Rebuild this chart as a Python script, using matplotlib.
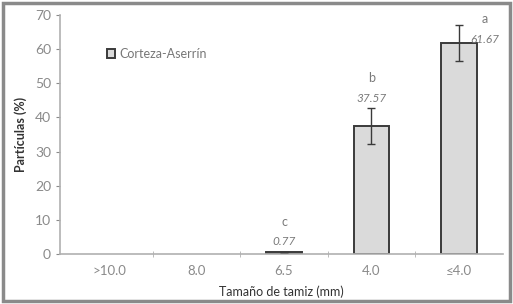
import matplotlib.pyplot as plt
import numpy as np

# data
categories = ['>10.0', '8.0', '6.5', '4.0', '≤4.0']
values = [0, 0, 0.77, 37.57, 61.67]
errors = [0, 0, 0, 5.2, 5.3]
letters = ['', '', 'c', 'b', 'a']
value_labels = ['', '', '0.77', '37.57', '61.67']

plt.rcParams['font.family'] = ['Lato', 'DejaVu Sans']

fig = plt.figure(figsize=(5.13, 3.04), dpi=100)
ax = fig.add_axes([0.117, 0.164, 0.863, 0.787])

x = np.arange(len(categories))
shown = [v > 0 for v in values]
bars = ax.bar(x[shown], np.array(values)[shown], width=0.41, color='#dadada',
              edgecolor='#3a3a3a', linewidth=1.4, label='Corteza-Aserrín', zorder=2)
ax.errorbar(x[shown], np.array(values)[shown], yerr=np.array(errors)[shown],
            fmt='none', ecolor='#3a3a3a', elinewidth=1, capsize=3, zorder=3)

# letters and values above the bars
for i in range(len(categories)):
    if not shown[i]:
        continue
    top = values[i] + errors[i]
    dx = 0.29 if top > 60 else 0
    ax.annotate(value_labels[i], (x[i] + dx, top), xytext=(0, 3 if dx == 0 else -14),
                textcoords='offset points', ha='center', va='bottom',
                fontsize=8.5, color='#7a7a7a', style='italic')
    ax.annotate(letters[i], (x[i] + dx, top), xytext=(0, 17 if dx == 0 else 0),
                textcoords='offset points', ha='center', va='bottom',
                fontsize=9, color='#7a7a7a')

ax.set_xlim(-0.56, 4.5)
ax.set_ylim(0, 70)
ax.set_yticks(range(0, 71, 10))
ax.set_xticks(x)
ax.set_xticklabels(categories)
ax.set_xticks(np.arange(0.5, 4.5, 1), minor=True)
ax.tick_params(axis='x', which='major', length=0, labelsize=9.5, colors='#8a8a8a', pad=8)
ax.tick_params(axis='x', which='minor', length=4, direction='inout', color='#b0b0b0')
ax.tick_params(axis='y', length=3, labelsize=10, colors='#8a8a8a', direction='out')
for s in ['top', 'right']:
    ax.spines[s].set_visible(False)
for s in ['left', 'bottom']:
    ax.spines[s].set_color('#b0b0b0')
    ax.spines[s].set_linewidth(1.2)

ax.set_xlabel('Tamaño de tamiz (mm)', fontsize=9, color='#333333', labelpad=6)
ax.set_ylabel('Partículas (%)', fontsize=9, color='#333333', fontweight='bold', labelpad=6)

ax.legend(loc='upper left', bbox_to_anchor=(0.08, 0.91), frameon=False, fontsize=9,
          handlelength=0.7, handleheight=0.7, handletextpad=0.3, labelcolor='#777777')

# outer gray frame
fig.patches.append(plt.Rectangle((0.006, 0.01), 0.988, 0.98, transform=fig.transFigure,
                                 fill=False, edgecolor='#8a8a8a', linewidth=2.5))

fig.savefig('out.png', dpi=100)
